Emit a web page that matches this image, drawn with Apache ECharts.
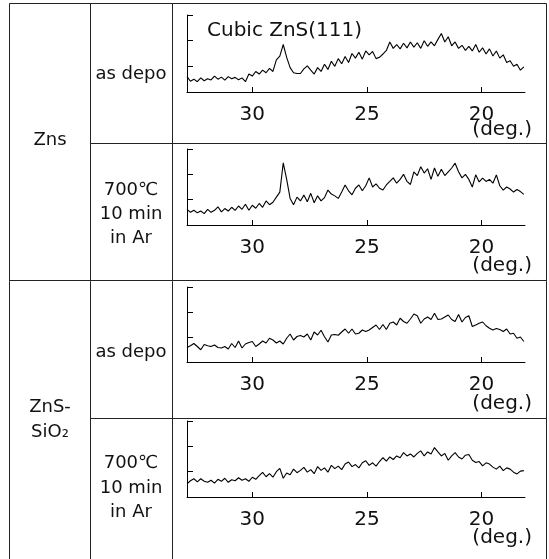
<!DOCTYPE html>
<html>
<head>
<meta charset="utf-8">
<script src="https://cdn.jsdelivr.net/npm/echarts@6/dist/echarts.min.js"></script>
<style>
html,body{margin:0;padding:0;background:#fff;}
#chart{width:549px;height:559px;}
</style>
</head>
<body>
<div id="chart"></div>
<script>
// 2-theta (deg.) sampling positions shared by all four patterns
var twoTheta = [32.85,32.70,32.55,32.40,32.25,32.10,31.95,31.80,31.65,31.50,
  31.35,31.20,31.05,30.90,30.75,30.60,30.45,30.30,30.15,30.00,
  29.85,29.70,29.55,29.40,29.25,29.10,28.95,28.80,28.65,28.50,
  28.35,28.20,28.05,27.90,27.75,27.60,27.45,27.30,27.15,27.00,
  26.85,26.70,26.55,26.40,26.25,26.10,25.95,25.80,25.65,25.50,
  25.35,25.20,25.05,24.90,24.75,24.60,24.45,24.30,24.15,24.00,
  23.85,23.70,23.55,23.40,23.25,23.10,22.95,22.80,22.65,22.50,
  22.35,22.20,22.05,21.90,21.75,21.60,21.45,21.30,21.15,21.00,
  20.85,20.70,20.55,20.40,20.25,20.10,19.95,19.80,19.65,19.50,
  19.35,19.20,19.05,18.90,18.75,18.60,18.45,18.30,18.15];

// ZnS, as deposited
var znsAsDepo = [0.60,0.42,0.50,0.40,0.55,0.44,0.52,0.47,0.62,0.50,
  0.58,0.46,0.60,0.52,0.57,0.48,0.55,0.40,0.70,0.62,
  0.80,0.70,0.85,0.75,0.92,0.80,1.25,1.40,1.85,1.35,
  0.95,0.75,0.72,0.72,0.90,1.02,0.85,0.70,0.95,0.80,
  1.08,0.88,1.20,1.00,1.30,1.10,1.38,1.15,1.50,1.32,
  1.55,1.28,1.60,1.45,1.58,1.30,1.35,1.48,1.62,1.95,
  1.70,1.85,1.68,1.90,1.72,1.95,1.75,1.92,1.70,2.00,
  1.78,1.95,1.80,2.05,2.28,1.95,2.15,1.80,1.95,1.70,
  1.82,1.62,1.78,1.60,1.85,1.55,1.72,1.48,1.68,1.40,
  1.60,1.32,1.45,1.15,1.22,1.00,1.08,0.85,0.98];

// ZnS, 700C 10 min in Ar
var zns700 = [0.62,0.50,0.58,0.48,0.55,0.45,0.62,0.50,0.58,0.72,
  0.52,0.65,0.55,0.70,0.58,0.75,0.62,0.82,0.58,0.78,
  0.66,0.85,0.70,0.95,0.80,0.90,1.10,1.30,2.45,1.80,
  1.05,0.80,1.10,0.95,1.18,0.92,1.25,0.88,1.15,0.95,
  1.08,1.38,1.22,1.15,1.05,1.30,1.58,1.35,1.19,1.45,
  1.58,1.35,1.55,1.86,1.50,1.62,1.45,1.38,1.58,1.72,
  1.86,1.65,1.80,2.00,1.72,1.60,2.10,1.95,2.30,2.05,
  2.22,1.80,2.25,1.92,2.20,1.95,2.10,2.25,2.44,2.10,
  1.86,2.00,1.80,1.50,1.98,1.70,1.85,1.72,1.80,1.65,
  1.98,1.55,1.38,1.50,1.42,1.30,1.40,1.32,1.21];

// ZnS-SiO2, as deposited
var znsSiO2AsDepo = [0.58,0.65,0.74,0.62,0.49,0.70,0.65,0.62,0.68,0.58,
  0.56,0.62,0.52,0.74,0.58,0.84,0.56,0.72,0.78,0.82,
  0.62,0.72,0.84,0.76,0.95,0.88,0.76,0.84,0.72,0.95,
  1.12,0.88,1.02,1.06,1.00,1.12,0.88,1.20,1.08,1.27,
  1.01,0.80,1.08,1.10,1.07,1.20,1.32,1.15,1.32,1.12,
  1.15,1.28,1.22,1.28,1.38,1.48,1.30,1.50,1.30,1.55,
  1.60,1.48,1.75,1.62,1.55,1.72,1.92,1.85,1.55,1.72,
  1.80,1.70,1.95,1.70,1.72,1.80,1.88,1.70,1.62,1.90,
  1.60,1.78,1.85,1.42,1.48,1.55,1.60,1.45,1.35,1.28,
  1.34,1.30,1.22,1.32,1.12,1.15,0.95,1.00,0.82];

// ZnS-SiO2, 700C 10 min in Ar
var znsSiO2700 = [0.52,0.64,0.72,0.60,0.72,0.62,0.58,0.66,0.55,0.70,
  0.62,0.74,0.58,0.68,0.64,0.76,0.66,0.72,0.62,0.78,
  0.70,0.84,0.97,0.80,0.92,0.78,1.00,1.13,0.74,0.95,
  0.88,1.10,0.96,1.05,1.17,0.98,1.08,0.92,1.20,1.05,
  1.15,0.98,1.25,1.12,1.22,1.08,1.30,1.38,1.20,1.28,
  1.15,1.35,1.43,1.25,1.35,1.22,1.40,1.55,1.42,1.58,
  1.48,1.62,1.55,1.75,1.62,1.70,1.58,1.72,1.82,1.62,
  1.78,1.70,1.95,1.78,1.62,1.72,1.45,1.62,1.75,1.58,
  1.50,1.65,1.68,1.45,1.36,1.40,1.23,1.35,1.30,1.18,
  1.10,1.22,1.04,1.15,1.10,0.98,0.91,1.02,1.04];

var xTickValues = [30, 25, 20];
var xUnit = '(deg.)';
var peakLabel = 'Cubic ZnS(111)';
var materials = ['Zns', 'ZnS-', 'SiO\u2082'];
var conditions = ['as depo', '700\u2103', '10 min', 'in Ar'];

var patterns = [znsAsDepo, zns700, znsSiO2AsDepo, znsSiO2700];

var FONT = 'DejaVu Sans';
var INK = '#000';
var gridTops = [15, 149, 287, 421];
var gridHeights = [77, 76, 75, 76];

var grids = [], xAxes = [], yAxes = [], series = [];
patterns.forEach(function (vals, k) {
  grids.push({left: 187, right: 24, top: gridTops[k], height: gridHeights[k]});
  xAxes.push({
    type: 'value', gridIndex: k, inverse: true, min: 18.1, max: 32.85,
    axisLine: {show: true, lineStyle: {color: INK, width: 1}},
    axisTick: {show: true, inside: true, length: 5, customValues: xTickValues, lineStyle: {color: INK}},
    axisLabel: {show: true, customValues: xTickValues, margin: 13, fontSize: 20, color: '#111', fontFamily: FONT},
    splitLine: {show: false}
  });
  yAxes.push({
    type: 'value', gridIndex: k, min: 0, max: 3, interval: 1,
    axisLine: {show: true, lineStyle: {color: INK, width: 1}},
    axisTick: {show: true, inside: true, length: 6, lineStyle: {color: INK}},
    axisLabel: {show: false},
    splitLine: {show: false}
  });
  series.push({
    type: 'line', xAxisIndex: k, yAxisIndex: k, showSymbol: false, silent: true,
    animation: false,
    lineStyle: {color: INK, width: 1.1},
    data: twoTheta.map(function (t, i) { return [t, vals[i]]; })
  });
});

function txt(x, y, s, size, align) {
  return {type: 'text', x: x, y: y, silent: true,
    style: {text: s, fill: '#111', font: size + 'px "' + FONT + '"', textAlign: align || 'center', textVerticalAlign: 'middle'}};
}
function ln(x1, y1, x2, y2) {
  return {type: 'line', silent: true, shape: {x1: x1, y1: y1, x2: x2, y2: y2},
    style: {stroke: '#222', lineWidth: 1}};
}

var graphics = [
  // table frame
  ln(9.5, 3.5, 546.5, 3.5),
  ln(9.5, 3.5, 9.5, 559),
  ln(90.5, 3.5, 90.5, 559),
  ln(172.5, 3.5, 172.5, 559),
  ln(546.5, 3.5, 546.5, 559),
  ln(90.5, 143.5, 546.5, 143.5),
  ln(9.5, 280.5, 546.5, 280.5),
  ln(90.5, 418.5, 546.5, 418.5),
  // material column
  txt(50, 140, materials[0], 18),
  txt(50, 407, materials[1], 18),
  txt(50, 432, materials[2], 18),
  // condition column
  txt(131, 74, conditions[0], 18),
  txt(131, 190, conditions[1], 18),
  txt(131, 214, conditions[2], 18),
  txt(131, 238, conditions[3], 18),
  txt(131, 352, conditions[0], 18),
  txt(131, 463, conditions[1], 18),
  txt(131, 488, conditions[2], 18),
  txt(131, 512, conditions[3], 18),
  // peak annotation
  txt(207, 31, peakLabel, 20, 'left'),
  // unit labels
  txt(532, 130, xUnit, 20, 'right'),
  txt(532, 266, xUnit, 20, 'right'),
  txt(532, 404, xUnit, 20, 'right'),
  txt(532, 538, xUnit, 20, 'right')
];

var chart = echarts.init(document.getElementById('chart'), null, {renderer: 'canvas'});
chart.setOption({
  animation: false,
  backgroundColor: '#fff',
  grid: grids, xAxis: xAxes, yAxis: yAxes, series: series,
  graphic: graphics
});
</script>
</body>
</html>
